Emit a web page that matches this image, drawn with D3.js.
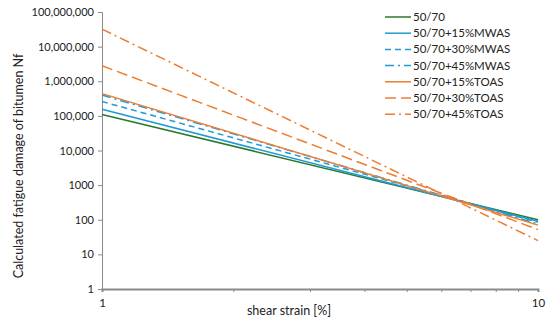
<!DOCTYPE html>
<html>
<head>
<meta charset="utf-8">
<script src="https://cdn.jsdelivr.net/npm/d3@7"></script>
<style>
  body { margin: 0; background: #fff; }
  text { font-family: Lato, "Open Sans", sans-serif; fill: #222; }
</style>
</head>
<body>
<div id="container"></div>
<script>
// shear strain end points (%)
const strain = [1, 10];

const seriesNames = [
  "50/70",
  "50/70+15%MWAS",
  "50/70+30%MWAS",
  "50/70+45%MWAS",
  "50/70+15%TOAS",
  "50/70+30%TOAS",
  "50/70+45%TOAS",
];

// Nf at strain 1% and 10%
const nf5070 = [110000, 100];
const nf15Mwas = [155000, 90];
const nf30Mwas = [260000, 85];
const nf45Mwas = [400000, 76];
const nf15Toas = [440000, 70];
const nf30Toas = [2800000, 52];
const nf45Toas = [32000000, 25];

const yTicks = [1, 10, 100, 1000, 10000, 100000, 1000000, 10000000, 100000000];
const xMinorTicks = [2, 3, 4, 5, 6, 7, 8, 9];

const seriesValues = [nf5070, nf15Mwas, nf30Mwas, nf45Mwas, nf15Toas, nf30Toas, nf45Toas];
const colors = ["#2a7a2a", "#1f9ad6", "#1f9ad6", "#1f9ad6", "#ed7d31", "#ed7d31", "#ed7d31"];
const dashes = [null, null, "6,4", "9,4,2,4", null, "11,5", "10,4,2,4"];

const width = 550;
const height = 329;
const margin = { left: 102, right: 12, top: 12, bottom: 40 };

const svg = d3
  .select("#container")
  .append("svg")
  .attr("width", width)
  .attr("height", height);

const x = d3
  .scaleLog()
  .domain([1, 10])
  .range([margin.left, width - margin.right]);

const y = d3
  .scaleLog()
  .domain([1, 100000000])
  .range([height - margin.bottom, margin.top]);

const fmt = (d) => (d >= 10000 ? d3.format(",")(d) : String(d));

// y axis
const yAxis = svg
  .append("g")
  .attr("transform", `translate(${margin.left},0)`)
  .call(d3.axisLeft(y).tickValues(yTicks).tickFormat(fmt).tickSize(4).tickPadding(4));
yAxis.select(".domain").attr("stroke", "#8a8a8a");
yAxis.selectAll(".tick line").attr("stroke", "#8a8a8a");
yAxis.selectAll("text").style("font-size", "11px").attr("fill", "#222");

// x axis
const xAxis = svg
  .append("g")
  .attr("transform", `translate(0,${height - margin.bottom})`)
  .call(
    d3
      .axisBottom(x)
      .tickValues([1, ...xMinorTicks, 10])
      .tickFormat((d) => (d === 1 || d === 10 ? d : ""))
      .tickSize(3)
      .tickPadding(7)
  );
xAxis.select(".domain").attr("stroke", "#8a8a8a").attr("stroke-width", 2);
xAxis.selectAll(".tick line").attr("stroke", "#8a8a8a");
xAxis.selectAll("text").style("font-size", "11.5px").attr("fill", "#222");

// series lines
const line = d3
  .line()
  .x((d, i) => x(strain[i]))
  .y((d) => y(d));

svg
  .append("g")
  .selectAll("path")
  .data(seriesValues)
  .enter()
  .append("path")
  .attr("d", (d) => line(d))
  .attr("fill", "none")
  .attr("stroke", (d, i) => colors[i])
  .attr("stroke-width", 1.5)
  .attr("stroke-dasharray", (d, i) => dashes[i]);

// axis titles
svg
  .append("text")
  .attr("x", 289)
  .attr("y", 315)
  .attr("text-anchor", "middle")
  .style("font-size", "12.5px")
  .text("shear strain [%]");

svg
  .append("text")
  .attr("transform", "translate(23,166) rotate(-90)")
  .attr("text-anchor", "middle")
  .style("font-size", "12.5px")
  .text("Calculated fatigue damage of bitumen Nf");

// legend
const legend = svg.append("g").attr("transform", "translate(385,17)");
const rows = legend
  .selectAll("g")
  .data(seriesNames)
  .enter()
  .append("g")
  .attr("transform", (d, i) => `translate(0,${i * 16.2})`);

rows
  .append("line")
  .attr("x1", 0)
  .attr("x2", 26)
  .attr("stroke", (d, i) => colors[i])
  .attr("stroke-width", 1.5)
  .attr("stroke-dasharray", (d, i) => dashes[i]);

rows
  .append("text")
  .attr("x", 28)
  .attr("dy", "0.35em")
  .style("font-size", "11.5px")
  .text((d) => d);
</script>
</body>
</html>
